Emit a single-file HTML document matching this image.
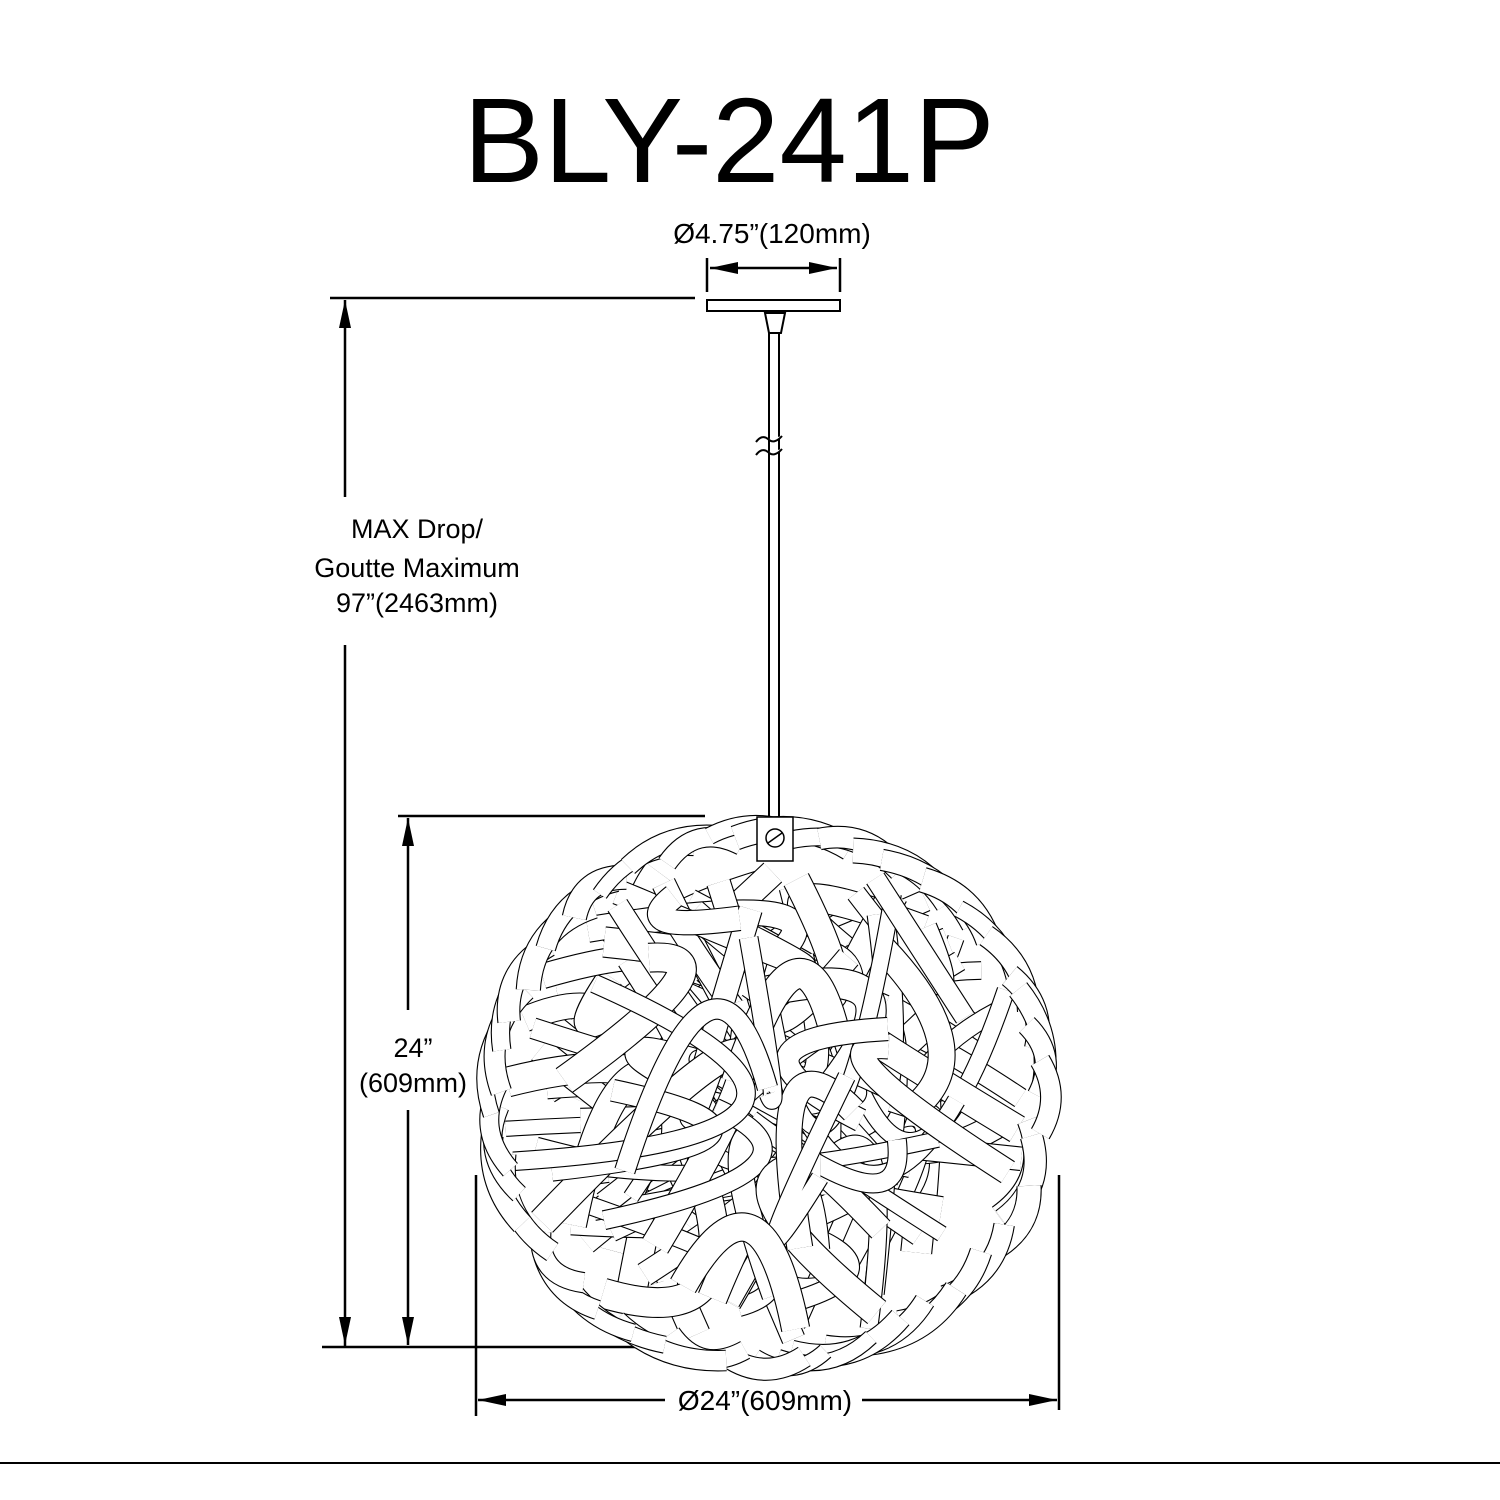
<!DOCTYPE html>
<html><head><meta charset="utf-8"><style>
html,body{margin:0;padding:0;background:#fff;}
svg{display:block}
text{font-family:"Liberation Sans",sans-serif;fill:#000}
</style></head><body>
<svg id="s" width="1500" height="1500" viewBox="0 0 1500 1500" xmlns="http://www.w3.org/2000/svg">
<rect width="1500" height="1500" fill="#fff"/>
<text x="729" y="182" font-size="121" text-anchor="middle">BLY-241P</text>
<text x="772" y="243" font-size="28" text-anchor="middle">Ø4.75”(120mm)</text>
<g stroke="#000" stroke-width="2.5" fill="none">
<line x1="707" y1="258" x2="707" y2="292"/><line x1="840" y1="258" x2="840" y2="292"/>
<line x1="710" y1="268" x2="837" y2="268"/>
<rect x="707" y="300" width="133" height="11" stroke-width="2"/>
<path d="M765 313 L785 313 L781 333 L769 333 Z" stroke-width="2"/>
<line x1="769" y1="333" x2="769" y2="820" stroke-width="2"/><line x1="779" y1="333" x2="779" y2="820" stroke-width="2"/>
<path d="M756 442 q6 -8 12 -3 q6 6 14 -3 M756 455 q6 -8 12 -3 q6 6 14 -3" stroke-width="2" fill="#fff"/>
<line x1="330" y1="298" x2="695" y2="298"/>
<line x1="345" y1="300" x2="345" y2="497"/><line x1="345" y1="645" x2="345" y2="1347"/>
<line x1="322" y1="1347" x2="660" y2="1347"/>
<line x1="398" y1="816" x2="705" y2="816"/>
<line x1="408" y1="818" x2="408" y2="1010"/><line x1="408" y1="1110" x2="408" y2="1345"/>
<line x1="476" y1="1175" x2="476" y2="1416"/><line x1="1059" y1="1175" x2="1059" y2="1410"/>
<line x1="478" y1="1400" x2="665" y2="1400"/><line x1="862" y1="1400" x2="1057" y2="1400"/>
<line x1="0" y1="1463" x2="1500" y2="1463" stroke-width="2"/>
</g>
<g fill="#000">
<path d="M710 268 L738 262 L738 274 Z"/><path d="M837 268 L809 262 L809 274 Z"/>
<path d="M345 300 L339 328 L351 328 Z"/><path d="M345 1345 L339 1317 L351 1317 Z"/>
<path d="M408 818 L402 846 L414 846 Z"/><path d="M408 1345 L402 1317 L414 1317 Z"/>
<path d="M478 1400 L506 1394 L506 1406 Z"/><path d="M1057 1400 L1029 1394 L1029 1406 Z"/>
</g>
<g font-size="27" text-anchor="middle">
<text x="417" y="538">MAX Drop/</text>
<text x="417" y="577">Goutte Maximum</text>
<text x="417" y="612">97”(2463mm)</text>
<text x="413" y="1057">24”</text>
<text x="413" y="1092">(609mm)</text>
</g>
<text x="765" y="1410" font-size="28" text-anchor="middle">Ø24”(609mm)</text>
<g id="ball"></g>
<g stroke="#000" stroke-width="1.5" fill="#fff">
<rect x="757" y="817" width="36" height="44"/>
<circle cx="775" cy="838" r="9"/><line x1="768" y1="843" x2="782" y2="833"/>
</g>
</svg>
<script>
(function(){
var seed=7;function r(){seed=(seed*16807)%2147483647;return (seed-1)/2147483646;}
var g=document.getElementById('ball'),ns='http://www.w3.org/2000/svg';
var cx=767,cy=1098,rx=278,ry=268;
function pt(k){var a=r()*6.283,d=k?0.9+r()*0.12:Math.sqrt(r())*0.95;return [cx+Math.cos(a)*rx*d,cy+Math.sin(a)*ry*d];}
function rib(p,c,q,w){
 var d='M'+p[0].toFixed(1)+' '+p[1].toFixed(1)+' Q'+c[0].toFixed(1)+' '+c[1].toFixed(1)+' '+q[0].toFixed(1)+' '+q[1].toFixed(1);
 var a=document.createElementNS(ns,'path');a.setAttribute('d',d);a.setAttribute('fill','none');a.setAttribute('stroke','#000');a.setAttribute('stroke-width',w+2.2);g.appendChild(a);
 var b=document.createElementNS(ns,'path');b.setAttribute('d',d);b.setAttribute('fill','none');b.setAttribute('stroke','#fff');b.setAttribute('stroke-width',w);g.appendChild(b);
}
for(var i=0;i<150;i++){
 var p=pt(),q=pt(),c=pt();
 var dx=q[0]-p[0],dy=q[1]-p[1];if(Math.hypot(dx,dy)>200){q=[p[0]+dx*0.45,p[1]+dy*0.45];}
 rib(p,c,q,14+r()*16);
}
// rim ribbons along the outline
for(var j=0;j<44;j++){
 var a0=j/44*6.283+r()*0.1,a1=a0+0.25+r()*0.2,am=(a0+a1)/2,k=0.94+r()*0.06;
 var p=[cx+Math.cos(a0)*rx*k,cy+Math.sin(a0)*ry*k],q=[cx+Math.cos(a1)*rx*k,cy+Math.sin(a1)*ry*k],c=[cx+Math.cos(am)*rx*1.06,cy+Math.sin(am)*ry*1.06];
 rib(p,c,q,14+r()*10);
}
})();
</script>
</body></html>
